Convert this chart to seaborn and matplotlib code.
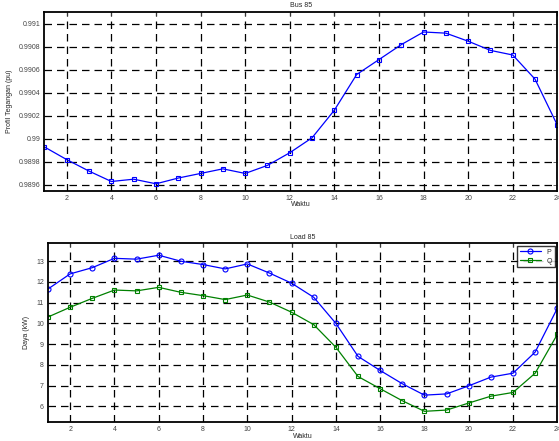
import numpy as np
import pandas as pd
import matplotlib
matplotlib.use("Agg")
import matplotlib.pyplot as plt
from matplotlib.ticker import FormatStrFormatter
import seaborn as sns

waktu = list(range(1, 25))
tegangan = [0.98993, 0.98982, 0.98972, 0.98963, 0.98965, 0.98961, 0.98966, 0.98970,
            0.98974, 0.98970, 0.98977, 0.98988, 0.99001, 0.99025, 0.99056, 0.99069,
            0.99082, 0.99093, 0.99092, 0.99085, 0.99077, 0.99073, 0.99052, 0.99012]
daya_p = [11.66, 12.39, 12.69, 13.14, 13.10, 13.29, 13.00, 12.84, 12.63, 12.87, 12.43, 11.94,
          11.26, 10.00, 8.41, 7.73, 7.09, 6.54, 6.60, 6.99, 7.41, 7.60, 8.62, 10.73]
daya_q = [10.31, 10.78, 11.21, 11.61, 11.57, 11.74, 11.50, 11.34, 11.15, 11.37, 11.03, 10.54,
          9.94, 8.85, 7.44, 6.85, 6.27, 5.76, 5.82, 6.16, 6.49, 6.67, 7.60, 9.47]

sns.set_style("white")
plt.rcParams['font.family'] = ['Liberation Sans', 'DejaVu Sans']

fig = plt.figure(figsize=(5.59, 4.41), dpi=100)
ax1 = fig.add_axes([0.0796, 0.5676, 0.9174, 0.406])
ax2 = fig.add_axes([0.0859, 0.0424, 0.9111, 0.4066])

def gaya(ax):
    ax.grid(True, color='black', linestyle=(0, (6, 4)), linewidth=0.9)
    ax.set_axisbelow(True)
    for s in ax.spines.values():
        s.set_color('black')
        s.set_linewidth(1.3)
    ax.tick_params(direction='in', length=3, width=0.6, labelsize=5, colors='#444444',
                   top=True, right=True, pad=3)
    ax.set_xticks(range(2, 25, 2))
    ax.set_xlim(1, 24)
    ax.xaxis.set_label_coords(0.5, -0.06)

df1 = pd.DataFrame({'Waktu': waktu, 'V': tegangan})
sns.lineplot(data=df1, x='Waktu', y='V', ax=ax1, color='#0000ff', marker='s',
             markersize=3.4, markerfacecolor='none', markeredgecolor='#0000ff',
             markeredgewidth=0.8, linewidth=0.9)
gaya(ax1)
ax1.set_yticks(np.arange(0.9896, 0.99101, 0.0002))
ax1.yaxis.set_major_formatter(FormatStrFormatter('%g'))
ax1.set_ylim(0.98955, 0.991107)
ax1.set_title('Bus 85', fontsize=5, pad=3)
ax1.set_xlabel('Waktu', fontsize=5)
ax1.set_ylabel('Profil Tegangan (pu)', fontsize=5)

df2 = pd.DataFrame({'Waktu': waktu, 'P': daya_p, 'Q': daya_q})
sns.lineplot(data=df2, x='Waktu', y='P', ax=ax2, color='#0000ff', marker='o',
             markersize=3.6, markerfacecolor='none', markeredgecolor='#0000ff',
             markeredgewidth=0.8, linewidth=0.9, label='P')
sns.lineplot(data=df2, x='Waktu', y='Q', ax=ax2, color='#008000', marker='s',
             markersize=3.4, markerfacecolor='none', markeredgecolor='#008000',
             markeredgewidth=0.8, linewidth=0.9, label='Q')
gaya(ax2)
ax2.set_yticks(range(6, 14))
ax2.set_ylim(5.23, 13.88)
ax2.set_title('Load 85', fontsize=5, pad=3)
ax2.set_xlabel('Waktu', fontsize=5)
ax2.set_ylabel('Daya (kW)', fontsize=5)
leg = ax2.legend(loc='upper right', fontsize=5, frameon=True, fancybox=False,
                 handlelength=3, borderpad=0.4, labelspacing=0.3, borderaxespad=0.4)
leg.get_frame().set_edgecolor('black')
leg.get_frame().set_linewidth(1.0)

fig.savefig('out.png', dpi=100)
